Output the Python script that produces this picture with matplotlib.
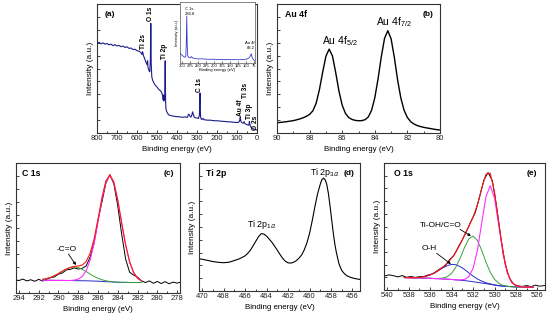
import matplotlib
matplotlib.use('Agg')
import matplotlib.pyplot as plt
import numpy as np
from matplotlib.ticker import MultipleLocator, AutoMinorLocator

plt.rcParams['font.family'] = ['Liberation Sans', 'DejaVu Sans']
plt.rcParams['mathtext.default'] = 'regular'

# ---- data (binding energy eV, intensity a.u. scaled 0-100) ----
survey = [(800, 69.5), (790, 70.3), (780, 69.1), (770, 69.9), (760, 68.9), (750, 69.4), (740, 68.3),
          (730, 68.9), (720, 67.7), (710, 68.5), (700, 67.5), (690, 67.9), (680, 66.9), (670, 67.4),
          (660, 66.3), (650, 66.8), (640, 65.6), (630, 65.9), (620, 64.7), (610, 64.9), (600, 63.8),
          (590, 63.4), (580, 62.3), (575, 60.8), (572, 63.0), (568, 60.2), (562, 57.6), (556, 55.2),
          (550, 53.0), (547, 56.0), (545, 50.8), (540, 48.3), (536, 47.4), (533, 58.0), (531, 85.0),
          (529, 54.0), (526, 43.5), (522, 41.0), (518, 39.6), (512, 37.8), (506, 36.6), (500, 35.7),
          (494, 34.3), (488, 33.5), (482, 32.6), (478, 31.8), (474, 30.2), (471, 28.0), (469, 25.6),
          (467, 29.5), (466, 24.8), (465, 27.0), (463, 25.5), (461, 30.0), (460, 42.0), (459, 56.0),
          (458, 36.0), (457, 24.0), (455, 18.5), (452, 16.8), (448, 15.6), (444, 14.6), (440, 13.9),
          (430, 13.5), (420, 13.1), (410, 12.9), (400, 12.6), (390, 12.7), (380, 12.3), (370, 12.2),
          (360, 12.5), (350, 12.0), (346, 13.0), (342, 14.6), (338, 14.0), (334, 12.6), (330, 12.4),
          (326, 13.8), (322, 16.4), (318, 14.2), (314, 12.4), (310, 11.9), (300, 11.6), (292, 11.3),
          (288, 14.0), (286, 24.0), (285, 31.0), (284, 20.0), (282, 12.5), (279, 10.8), (275, 10.5),
          (270, 11.4), (265, 10.3), (255, 10.1), (245, 9.9), (235, 10.0), (225, 9.7), (215, 9.6),
          (205, 9.4), (195, 9.5), (185, 9.2), (175, 9.1), (165, 9.0), (155, 8.8), (145, 8.7),
          (135, 8.6), (125, 8.5), (115, 8.3), (105, 8.2), (98, 8.1), (92, 8.4), (88, 9.0), (85, 10.8),
          (84, 12.0), (82, 10.2), (80, 8.8), (76, 8.2), (72, 7.6), (68, 7.8), (64, 8.8), (61, 7.3),
          (57, 7.0), (52, 6.6), (47, 6.2), (43, 6.0), (40, 6.6), (38, 9.0), (36, 7.0), (33, 5.4),
          (30, 4.6), (26, 3.9), (22, 3.5), (18, 3.2), (14, 2.9), (10, 2.7), (5, 2.5), (0, 2.3)]

survey_inset = [(306, 16.0), (303, 14.5), (300, 13.0), (297, 11.5), (294, 10.5), (291, 9.5), (288, 10.0),
                (286.5, 30.0), (285, 77.0), (283.5, 30.0), (282, 12.0), (279, 9.5), (276, 8.4), (273, 8.8),
                (270, 10.6), (267, 8.5), (262, 7.6), (255, 7.0), (245, 6.6), (235, 6.9), (225, 6.3),
                (215, 6.0), (205, 6.3), (195, 5.9), (185, 5.8), (175, 6.0), (165, 5.5), (155, 5.7),
                (145, 5.4), (135, 5.6), (125, 5.3), (115, 5.6), (105, 5.8), (98, 6.4), (92, 8.0),
                (88, 10.0), (85, 13.5), (83.5, 15.0), (82, 11.0), (80, 8.0), (77, 5.5), (74, 4.4), (72, 3.9)]

survey_peaks = [('O 1s', 530, 86.5), ('Ti 2s', 567, 65.0), ('Ti 2p', 461, 57.5), ('C 1s', 287, 32.0),
                ('Au 4f', 84, 13.0), ('Ti 3s', 59, 27.0), ('Ti 3p', 36, 10.5), ('O 2s', 9, 2.0)]

au4f = [(90.0, 8.0), (89.8, 8.2), (89.6, 8.5), (89.4, 8.8), (89.2, 9.2), (89.0, 9.6), (88.8, 10.2),
        (88.6, 10.9), (88.4, 11.8), (88.2, 12.9), (88.0, 14.4), (87.8, 17.2), (87.6, 23.0), (87.4, 33.5),
        (87.2, 47.0), (87.0, 59.5), (86.8, 65.0), (86.6, 59.8), (86.4, 47.0), (86.2, 32.5), (86.0, 21.5),
        (85.8, 15.2), (85.6, 12.0), (85.4, 10.5), (85.2, 9.8), (85.0, 9.5), (84.8, 9.6), (84.6, 10.3),
        (84.4, 12.4), (84.2, 17.5), (84.0, 27.3), (83.8, 42.0), (83.6, 59.2), (83.4, 73.5), (83.2, 79.3),
        (83.0, 73.0), (82.8, 58.5), (82.6, 41.0), (82.4, 27.0), (82.2, 17.5), (82.0, 12.0), (81.8, 8.8),
        (81.6, 7.0), (81.4, 5.8), (81.2, 5.0), (81.0, 4.4), (80.8, 3.9), (80.6, 3.5), (80.4, 3.0),
        (80.2, 2.6), (80.0, 2.3)]

c1s_raw = [(294.3, 10.1), (294.0, 9.6), (293.6, 10.7), (293.2, 9.3), (292.8, 10.2), (292.4, 9.0),
           (292.0, 10.5), (291.6, 9.2), (291.2, 10.6), (290.8, 11.8), (290.4, 12.4), (290.0, 14.5),
           (289.6, 15.4), (289.2, 17.8), (288.8, 18.2), (288.4, 19.3), (288.0, 18.4), (287.6, 19.0),
           (287.2, 20.8), (286.8, 27.5), (286.4, 38.5), (286.0, 56.0), (285.6, 70.0), (285.2, 84.5),
           (284.8, 91.0), (284.4, 84.0), (284.0, 67.0), (283.6, 45.0), (283.2, 26.0), (282.8, 16.0),
           (282.4, 13.8), (282.0, 12.2), (281.6, 9.4), (281.2, 8.0), (280.8, 9.3), (280.4, 7.5),
           (280.0, 8.9), (279.6, 7.3), (279.2, 8.7), (278.8, 7.1), (278.4, 8.4), (278.0, 7.6), (277.7, 8.2)]
c1s_fit_e = [291.6, 291.2, 290.8, 290.4, 290.0, 289.6, 289.2, 288.8, 288.4, 288.0, 287.6, 287.2, 286.8,
             286.4, 286.0, 285.6, 285.2, 284.8, 284.4, 284.0, 283.6, 283.2, 282.8, 282.4, 282.0, 281.6]
c1s_bg = [9.8, 9.8, 9.8, 9.7, 9.7, 9.7, 9.6, 9.6, 9.5, 9.5, 9.4, 9.4, 9.3, 9.2, 9.1, 8.9, 8.7, 8.6,
          8.4, 8.3, 8.2, 8.2, 8.1, 8.1, 8.1, 8.1]
c1s_cc = [9.8, 9.8, 9.8, 9.7, 9.7, 9.7, 9.6, 9.6, 9.9, 10.7, 12.7, 17.1, 25.2, 37.9, 54.5, 72.0, 85.5,
          90.6, 85.2, 71.4, 53.6, 36.9, 24.0, 15.8, 11.4, 9.3]
c1s_co = [10.5, 11.1, 12.0, 13.3, 15.0, 16.8, 18.4, 19.7, 20.0, 19.6, 18.2, 16.5, 14.6, 12.8, 11.3, 10.2,
          9.4, 8.9, 8.5, 8.3, 8.2, 8.2, 8.1, 8.1, 8.1, 8.1]

ti2p = [(470.3, 25.2), (470.0, 24.8), (469.5, 23.9), (469.0, 23.0), (468.5, 22.4), (468.0, 22.1),
        (467.5, 22.5), (467.0, 23.8), (466.5, 25.3), (466.0, 27.5), (465.75, 29.5), (465.5, 32.0),
        (465.25, 35.5), (465.0, 39.0), (464.75, 42.5), (464.5, 44.8), (464.25, 44.5), (464.0, 42.8),
        (463.75, 40.5), (463.5, 38.0), (463.25, 35.0), (463.0, 31.8), (462.75, 28.5), (462.5, 25.5),
        (462.25, 23.2), (462.0, 22.0), (461.75, 21.8), (461.5, 22.4), (461.25, 23.6), (461.0, 25.5),
        (460.75, 28.0), (460.5, 32.0), (460.25, 37.5), (460.0, 45.0), (459.75, 55.0), (459.5, 66.0),
        (459.25, 76.0), (459.0, 83.5), (458.85, 87.0), (458.7, 88.2), (458.55, 87.0), (458.4, 83.5),
        (458.25, 76.5), (458.1, 67.0), (457.95, 56.5), (457.8, 46.0), (457.65, 37.0), (457.5, 30.0),
        (457.25, 21.0), (457.0, 16.0), (456.75, 13.5), (456.5, 11.8), (456.25, 10.9), (456.0, 10.2),
        (455.75, 9.7), (455.5, 9.3), (455.3, 9.0)]

o1s_raw = [(540.3, 11.0), (539.8, 11.9), (539.4, 11.2), (539.0, 10.3), (538.6, 11.4), (538.2, 10.0),
           (537.8, 10.6), (537.4, 9.9), (537.0, 10.5), (536.6, 10.6), (536.2, 11.8), (535.8, 12.6),
           (535.4, 14.8), (535.0, 17.2), (534.6, 19.0), (534.2, 23.8), (533.8, 27.0), (533.4, 33.5),
           (533.0, 39.5), (532.6, 46.5), (532.2, 54.0), (531.8, 61.0), (531.4, 73.0), (531.0, 86.5),
           (530.6, 92.5), (530.2, 86.0), (529.8, 65.0), (529.4, 40.5), (529.0, 20.0), (528.6, 9.0),
           (528.2, 4.5), (527.8, 3.2), (527.4, 2.8), (527.0, 3.5), (526.6, 2.6), (526.2, 3.8),
           (525.8, 3.0), (525.3, 3.6)]
o1s_fit_e = [538.4, 538.0, 537.6, 537.2, 536.8, 536.4, 536.0, 535.6, 535.2, 534.8, 534.4, 534.0, 533.6,
             533.2, 532.8, 532.4, 532.0, 531.6, 531.2, 530.8, 530.4, 530.0, 529.6, 529.2, 528.8, 528.4,
             528.0, 527.6, 527.2, 526.8, 526.4]
o1s_bg = [9.8, 9.7, 9.6, 9.5, 9.4, 9.3, 9.2, 9.0, 8.9, 8.7, 8.5, 8.3, 8.0, 7.7, 7.4, 7.0, 6.5, 6.0, 5.5,
          5.0, 4.5, 3.9, 3.4, 3.0, 2.8, 2.6, 2.5, 2.4, 2.3, 2.2, 2.1]
o1s_lattice = [9.8, 9.7, 9.6, 9.5, 9.4, 9.3, 9.2, 9.0, 8.9, 8.7, 8.5, 8.3, 8.0, 7.9, 8.3, 10.4, 17.0,
               31.2, 52.6, 73.5, 82.1, 72.4, 50.5, 28.2, 13.3, 6.0, 3.4, 2.6, 2.3, 2.2, 2.1]
o1s_tioh = [9.8, 9.7, 9.6, 9.5, 9.4, 9.3, 9.2, 9.0, 9.1, 9.4, 10.5, 13.2, 18.0, 25.2, 33.5, 40.2, 42.5,
            39.1, 31.3, 22.0, 14.0, 8.4, 5.2, 3.6, 3.0, 2.6, 2.5, 2.4, 2.3, 2.2, 2.1]
o1s_oh = [9.8, 9.7, 9.7, 9.8, 10.1, 10.8, 11.9, 13.4, 15.4, 17.5, 19.2, 20.2, 19.9, 18.4, 16.2, 13.5,
          10.9, 8.7, 7.0, 5.7, 4.8, 4.0, 3.4, 3.0, 2.8, 2.6, 2.5, 2.4, 2.3, 2.2, 2.1]

RED = '#ff1a1a'
MAG = '#ff30ff'
GRN = '#3aa03a'
BLU = '#2a2ac8'

fig = plt.figure(figsize=(5.5, 3.2), dpi=100)


def px_axes(l, t, r, b):
    return fig.add_axes([l / 550, 1 - b / 320, (r - l) / 550, (b - t) / 320])


def style(ax, xlim, xticks):
    ax.set_xlim(xlim)
    ax.set_ylim(0, 100)
    ax.set_xticks(xticks)
    ax.xaxis.set_minor_locator(AutoMinorLocator(2))
    ax.yaxis.set_major_locator(MultipleLocator(10))
    ax.tick_params(which='both', direction='in', labelsize=5.5, pad=1.5, width=0.6, labelleft=False,
                   colors='#222222')
    ax.tick_params(which='major', length=2.5)
    ax.tick_params(which='minor', length=1.5)
    ax.set_xlabel('Binding energy (eV)', fontsize=5.7, labelpad=2.5)
    ax.set_ylabel('Intensity (a.u.)', fontsize=6, labelpad=2)
    for s in ax.spines.values():
        s.set_linewidth(0.8)
        s.set_color('#333333')


def corner(ax, left, right, y=0.92, size=6.3):
    ax.text(left[1], y, left[0], transform=ax.transAxes, fontweight='bold', fontsize=size, va='center')
    ax.text(right[1], y, right[0], transform=ax.transAxes, fontweight='bold', fontsize=6, va='center',
            ha='center')


def arrow(ax, start, end):
    ax.annotate('', xy=end, xytext=start,
                arrowprops=dict(arrowstyle='-|>', lw=0.6, color='k', mutation_scale=4, shrinkA=0, shrinkB=0))


# (a) survey
ax_a = px_axes(97, 4, 257, 133)
e, i = np.array(survey).T
ax_a.plot(e, i, color='#1c1c8c', lw=0.8)
style(ax_a, (800, 0), list(range(800, -1, -100)))
ax_a.text(0.081, 0.922, '(a)', transform=ax_a.transAxes, fontweight='bold', fontsize=6,
          ha='center', va='center')
for name, x, y in survey_peaks:
    ax_a.text(x, y, name, rotation=90, ha='center', va='bottom', fontweight='bold', fontsize=4.8)

ax_in = px_axes(180, 2, 255, 63)
e, i = np.array(survey_inset).T
ax_in.plot(e, i, color='#3a3acc', lw=0.6)
ax_in.set_xlim(306, 72)
ax_in.set_ylim(0, 100)
ax_in.set_xticks(list(range(300, 74, -25)))
ax_in.set_yticks([])
ax_in.tick_params(direction='in', labelsize=3, pad=0.5, length=1.2, width=0.4)
ax_in.set_xlabel('Binding energy (eV)', fontsize=3, labelpad=0.5)
ax_in.set_ylabel('Intensity (a.u.)', fontsize=3, labelpad=1)
for s in ax_in.spines.values():
    s.set_linewidth(0.5)
    s.set_color('#555555')
ax_in.text(290.2, 88, 'C 1s', fontsize=3, va='center')
ax_in.text(290.2, 80, '284.8', fontsize=3, va='center')
ax_in.text(74, 33, 'Au 4f', fontsize=3, va='center', ha='right')
ax_in.text(74, 25, '83.2', fontsize=3, va='center', ha='right')

# (b) Au 4f
ax_b = px_axes(277, 4, 440, 133)
e, i = np.array(au4f).T
ax_b.plot(e, i, color='k', lw=1.0)
style(ax_b, (90, 80), list(range(90, 79, -2)))
corner(ax_b, ('Au 4f', 0.05), ('(b)', 0.926))
ax_b.text(87.25, 71.3, 'Au 4f$_{5/2}$', fontsize=7.5, va='center')
ax_b.text(83.9, 86, 'Au 4f$_{7/2}$', fontsize=7.5, va='center')

# (c) C 1s
ax_c = px_axes(16, 163, 180, 293)
e, i = np.array(c1s_raw).T
ax_c.plot(e, i, color='k', lw=0.7)
bg = np.array(c1s_bg)
env = np.array(c1s_cc) + np.array(c1s_co) - bg
ax_c.plot(c1s_fit_e, bg, color=BLU, lw=0.7)
ax_c.plot(c1s_fit_e, c1s_co, color=GRN, lw=0.7)
ax_c.plot(c1s_fit_e, c1s_cc, color=MAG, lw=0.8)
ax_c.plot(c1s_fit_e, env, color=RED, lw=0.8)
style(ax_c, (294.3, 277.7), list(range(294, 277, -2)))
corner(ax_c, ('C 1s', 0.037), ('(c)', 0.933))
ax_c.text(289.14, 33.8, '-C=O', fontsize=6, ha='center', va='center')
arrow(ax_c, (289.0, 30), (288.23, 21.5))

# (d) Ti 2p
ax_d = px_axes(199, 163, 360, 291)
e, i = np.array(ti2p).T
ax_d.plot(e, i, color='k', lw=0.8)
style(ax_d, (470.3, 455.3), list(range(470, 455, -2)))
corner(ax_d, ('Ti 2p', 0.043), ('(d)', 0.93))
ax_d.text(460.0, 92.4, 'Ti 2p$_{3/2}$', fontsize=6.4, va='center')
ax_d.text(465.87, 51.6, 'Ti 2p$_{1/2}$', fontsize=6.4, va='center')

# (e) O 1s
ax_e = px_axes(384, 163, 545, 290)
e, i = np.array(o1s_raw).T
ax_e.plot(e, i, color='k', lw=0.7)
bg = np.array(o1s_bg)
env = np.array(o1s_lattice) + np.array(o1s_tioh) + np.array(o1s_oh) - 2 * bg
ax_e.plot(o1s_fit_e, bg, color=BLU, lw=0.7)
ax_e.plot(o1s_fit_e, o1s_oh, color=BLU, lw=0.7)
ax_e.plot(o1s_fit_e, o1s_tioh, color=GRN, lw=0.7)
ax_e.plot(o1s_fit_e, o1s_lattice, color=MAG, lw=0.8)
ax_e.plot(o1s_fit_e, env, color=RED, lw=0.8)
style(ax_e, (540.3, 525.3), list(range(540, 525, -2)))
corner(ax_e, ('O 1s', 0.06), ('(e)', 0.917))
ax_e.text(535.0, 50.4, 'Ti-OH/C=O', fontsize=6, ha='center', va='center')
arrow(ax_e, (533.23, 47.8), (532.2, 42.5))
ax_e.text(536.13, 32.3, 'O-H', fontsize=6, ha='center', va='center')
arrow(ax_e, (535.4, 28.9), (534.07, 20.5))

fig.savefig('out.png', dpi=100)
